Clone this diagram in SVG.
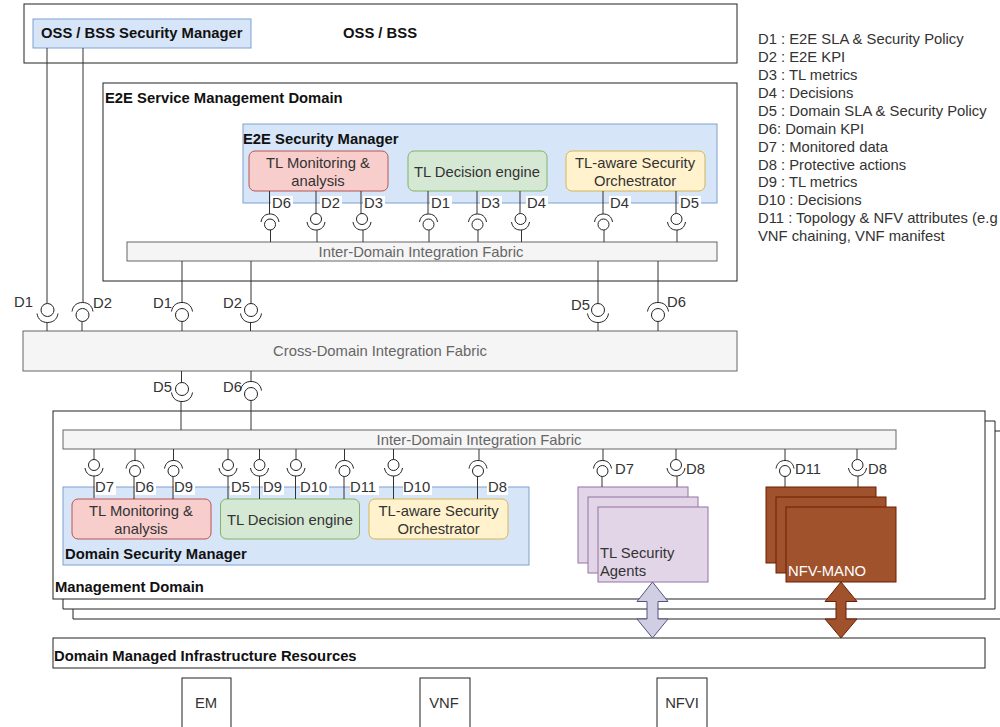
<svg xmlns="http://www.w3.org/2000/svg" xmlns:xlink="http://www.w3.org/1999/xlink" width="1000" height="727" viewBox="0 0 1000 727">
<style>
text{font-family:"Liberation Sans",Arial,sans-serif;font-size:14.800px;fill:#333}
.b{font-weight:bold;fill:#111}
.c{text-anchor:middle}
.f{fill:#666}
.box{fill:#fff;stroke:#222;stroke-width:1}
.sec{fill:#d7e5f8;stroke:#7f9fcf;stroke-width:1}
.fab{fill:#f5f5f5;stroke:#666;stroke-width:1}
.red{fill:#f8cecc;stroke:#b85450;stroke-width:1}
.grn{fill:#d5e8d4;stroke:#82b366;stroke-width:1}
.yel{fill:#fff2cc;stroke:#d6b656;stroke-width:1}
.pur{fill:#e1d5e7;stroke:#9673a6;stroke-width:1}
.bro{fill:#a0522d;stroke:#6d1f00;stroke-width:1}
.ln{fill:none;stroke:#333;stroke-width:1}
.sym{fill:none;stroke:#222;stroke-width:1}
.lb{fill:#fff;stroke:none}
</style>
<defs>
<g id="dn" class="sym"><circle r="5.5"/><path d="M-9 3C-8 9-4 11 0 11C4 11 8 9 9 3"/></g>
<g id="up" class="sym"><circle r="5.5"/><path d="M-9 -2.500C-8 -8.500-4 -10.500 0 -10.500C4 -10.500 8 -8.500 9 -2.500"/></g>
<g id="dnb" class="sym"><circle r="6.500"/><path d="M-10.500 3.500C-9.500 10-5 12.500 0 12.500C5 12.500 9.500 10 10.500 3.500"/></g>
<g id="upb" class="sym"><circle r="6.500"/><path d="M-10.500 -3.500C-9.500 -10-5 -12.500 0 -12.500C5 -12.500 9.500 -10 10.500 -3.500"/></g>
</defs>

<g id="oss-bss"><rect class="box" x="24" y="4" width="713" height="59"/><text class="b" x="343" y="38">OSS / BSS</text></g>
<g id="oss-manager"><rect class="sec" x="33" y="19" width="218" height="29"/><text class="b" x="41" y="38">OSS / BSS Security Manager</text></g>

<g id="e2e-domain"><rect class="box" x="103" y="83" width="634" height="198"/><text class="b" x="105" y="103">E2E Service Management Domain</text></g>
<g id="e2e-manager"><rect class="sec" x="243" y="124" width="474" height="79"/><text class="b" x="243" y="144">E2E Security Manager</text></g>
<g id="e2e-monitor"><rect class="red" x="249" y="151" width="139" height="40" rx="6"/><text class="c" x="318" y="168">TL Monitoring &amp;</text><text class="c" x="318" y="186">analysis</text></g>
<g id="e2e-decision"><rect class="grn" x="408" y="151" width="139" height="40" rx="6"/><text class="c" x="477" y="177">TL Decision engine</text></g>
<g id="e2e-orch"><rect class="yel" x="566" y="151" width="139" height="40" rx="6"/><text class="c" x="635" y="168">TL-aware Security</text><text class="c" x="635" y="186">Orchestrator</text></g>
<g id="e2e-fabric"><rect class="fab" x="127" y="242" width="590" height="19"/><text class="c f" x="421" y="257">Inter-Domain Integration Fabric</text></g>

<g id="cross-fabric"><rect class="fab" x="23" y="331" width="714" height="40"/><text class="c f" x="380" y="356">Cross-Domain Integration Fabric</text></g>

<g id="stack-back"><path class="box" fill="none" d="M995 431H1000M73 609V619H1000"/><path class="box" d="M63 421H995V609H63Z"/></g>
<g id="mgmt-domain"><rect class="box" x="53" y="411" width="932" height="188"/><text class="b" x="55" y="592">Management Domain</text></g>
<g id="mgmt-fabric"><rect class="fab" x="63" y="430" width="833" height="19"/><text class="c f" x="479" y="445">Inter-Domain Integration Fabric</text></g>
<g id="domain-manager"><rect class="sec" x="63" y="487" width="466" height="78"/><text class="b" x="65" y="559">Domain Security Manager</text></g>
<g id="dom-monitor"><rect class="red" x="72" y="499" width="139" height="40" rx="6"/><text class="c" x="141" y="516">TL Monitoring &amp;</text><text class="c" x="141" y="534">analysis</text></g>
<g id="dom-decision"><rect class="grn" x="220.500" y="499" width="139" height="40" rx="6"/><text class="c" x="290" y="525">TL Decision engine</text></g>
<g id="dom-orch"><rect class="yel" x="369" y="499" width="139" height="40" rx="6"/><text class="c" x="438.500" y="516">TL-aware Security</text><text class="c" x="438.500" y="534">Orchestrator</text></g>

<g id="agents"><rect class="pur" x="578" y="487" width="110" height="76"/><rect class="pur" x="588" y="497" width="110" height="76"/><rect class="pur" x="598" y="507" width="110" height="75"/><text x="600" y="558">TL Security</text><text x="600" y="576">Agents</text></g>
<g id="nfv-mano"><rect class="bro" x="766" y="487" width="110" height="76"/><rect class="bro" x="776" y="497" width="110" height="76"/><rect class="bro" x="786" y="507" width="110" height="75"/><text style="fill:#fff" x="788" y="576">NFV-MANO</text></g>

<g id="infra"><rect class="box" x="53" y="638" width="932" height="30"/><text class="b" x="54" y="661">Domain Managed Infrastructure Resources</text></g>
<g id="em"><rect class="box" x="182" y="678" width="49" height="60"/><text class="c" x="206" y="708">EM</text></g>
<g id="vnf"><rect class="box" x="420" y="678" width="50" height="60"/><text class="c" x="444" y="708">VNF</text></g>
<g id="nfvi"><rect class="box" x="657" y="678" width="50" height="60"/><text class="c" x="682" y="708">NFVI</text></g>

<g id="connectors">
<g class="ln">
<path d="M47 48V303.500M47 322.500V331"/><path d="M83 48V302M82 321.500V331"/>
<path d="M182 261V302M182 321.500V331"/><path d="M251 261V303.500M250.500 322.500V331"/>
<path d="M598 261V303.500M598 322.500V331"/><path d="M658 261V302M658 321.500V331"/>
<path d="M181.500 371V382.500M181 401.500V430"/><path d="M251 371V381.500M251 400.500V430"/>
<path d="M269.500 191V214M270.500 230V242"/><path d="M316 191V213.500M317 230V242"/><path d="M361 191V213.500M363 230V242"/>
<path d="M428 191V214M429 230V242"/><path d="M477 191V214M478 230V242"/><path d="M520 191V213.500M521.500 230V242"/>
<path d="M603 191V214M604 230V242"/><path d="M676 191V213.500M677 230V242"/>
<path d="M94 449V459.500M94 476V498"/><path d="M135 449V460.500M134 476.500V499"/><path d="M173.500 449V460.500M173 476.500V499"/>
<path d="M228 449V459.500M228 476V499"/><path d="M259.500 449V459.500M259.500 476V499"/><path d="M296 449V459.500M295.500 476V499"/>
<path d="M344.500 449V460.500M344 476.500V499"/><path d="M393.500 449V459.500M393.500 476V499"/><path d="M479 449V460.500M477.500 476.500V499"/>
<path d="M603 449V460.500M602 476.500V487"/><path d="M676 449V459.500M677 476V487"/><path d="M785 449V460.500M785 476.500V487"/><path d="M857 449V459.500M858 476V487"/>
</g>
<use xlink:href="#dnb" href="#dnb" x="47.500" y="310"/><use xlink:href="#upb" href="#upb" x="82.500" y="315"/>
<use xlink:href="#upb" href="#upb" x="182" y="315"/><use xlink:href="#dnb" href="#dnb" x="251" y="310"/>
<use xlink:href="#dnb" href="#dnb" x="598" y="310"/><use xlink:href="#upb" href="#upb" x="658" y="315"/>
<use xlink:href="#dnb" href="#dnb" x="182" y="389"/><use xlink:href="#upb" href="#upb" x="251" y="394"/>
<use xlink:href="#up" href="#up" x="270" y="224.500"/><use xlink:href="#dn" href="#dn" x="316" y="219"/><use xlink:href="#dn" href="#dn" x="362" y="219"/>
<use xlink:href="#up" href="#up" x="428.500" y="224.500"/><use xlink:href="#up" href="#up" x="477.500" y="224.500"/><use xlink:href="#dn" href="#dn" x="520.500" y="219"/>
<use xlink:href="#up" href="#up" x="603.500" y="224.500"/><use xlink:href="#dn" href="#dn" x="676.500" y="219"/>
<use xlink:href="#dn" href="#dn" x="94" y="465"/><use xlink:href="#up" href="#up" x="135" y="471"/><use xlink:href="#up" href="#up" x="173.500" y="471"/>
<use xlink:href="#dn" href="#dn" x="228" y="465"/><use xlink:href="#dn" href="#dn" x="259.500" y="465"/><use xlink:href="#dn" href="#dn" x="296" y="465"/>
<use xlink:href="#up" href="#up" x="344.500" y="471"/><use xlink:href="#dn" href="#dn" x="393.500" y="465"/><use xlink:href="#up" href="#up" x="478" y="471"/>
<use xlink:href="#up" href="#up" x="602.500" y="471"/><use xlink:href="#dn" href="#dn" x="676" y="465"/><use xlink:href="#up" href="#up" x="785" y="471"/><use xlink:href="#dn" href="#dn" x="857.500" y="465"/>
<path d="M652.500 582L668 601.500H658V619H668L652.500 638L637 619H647V601.500H637Z" fill="#d0cee2" stroke="#56517e"/>
<path d="M841 582L857 601.500H846V619H857L841 638L825 619H836V601.500H825Z" fill="#a0522d" stroke="#6d1f00"/>
</g>

<g id="labels">
<g class="lb">
<rect x="271" y="196" width="22" height="15"/><rect x="320" y="196" width="22" height="15"/><rect x="363" y="196" width="22" height="15"/>
<rect x="430" y="196" width="22" height="15"/><rect x="480" y="196" width="22" height="15"/><rect x="526" y="196" width="22" height="15"/>
<rect x="609" y="196" width="22" height="15"/><rect x="679" y="196" width="22" height="15"/>
<rect x="95" y="480" width="21" height="15"/><rect x="135" y="480" width="21" height="15"/><rect x="174" y="480" width="21" height="15"/>
<rect x="230" y="480" width="21" height="15"/><rect x="263" y="480" width="21" height="15"/><rect x="300" y="480" width="29" height="15"/>
<rect x="350" y="480" width="29" height="15"/><rect x="403" y="480" width="29" height="15"/><rect x="487" y="480" width="21" height="15"/>
</g>
<text x="272" y="208">D6</text><text x="321" y="208">D2</text><text x="364" y="208">D3</text><text x="431" y="208">D1</text><text x="481" y="208">D3</text><text x="527" y="208">D4</text><text x="610" y="208">D4</text><text x="680" y="208">D5</text>
<text x="14" y="307">D1</text><text x="93" y="308">D2</text><text x="153" y="308">D1</text><text x="223" y="308">D2</text><text x="571" y="310">D5</text><text x="667" y="307">D6</text>
<text x="153" y="392">D5</text><text x="223" y="392">D6</text>
<text x="95" y="492">D7</text><text x="135" y="492">D6</text><text x="174" y="492">D9</text><text x="231" y="492">D5</text><text x="263" y="492">D9</text><text x="300" y="492">D10</text><text x="350" y="492">D11</text><text x="403" y="492">D10</text><text x="488" y="492">D8</text>
<text x="615" y="474">D7</text><text x="686" y="474">D8</text><text x="795" y="474">D11</text><text x="868" y="474">D8</text>
</g>

<g id="legend">
<text x="758" y="44">D1 : E2E SLA &amp; Security Policy</text>
<text x="758" y="62">D2 : E2E KPI</text>
<text x="758" y="80">D3 : TL metrics</text>
<text x="758" y="98">D4 : Decisions</text>
<text x="758" y="116">D5 : Domain SLA &amp; Security Policy</text>
<text x="758" y="134">D6: Domain KPI</text>
<text x="758" y="152">D7 : Monitored data</text>
<text x="758" y="170">D8 : Protective actions</text>
<text x="758" y="187">D9 : TL metrics</text>
<text x="758" y="205">D10 : Decisions</text>
<text x="758" y="223">D11 : Topology &amp; NFV attributes (e.g</text>
<text x="758" y="241">VNF chaining, VNF manifest</text>
</g>
</svg>
